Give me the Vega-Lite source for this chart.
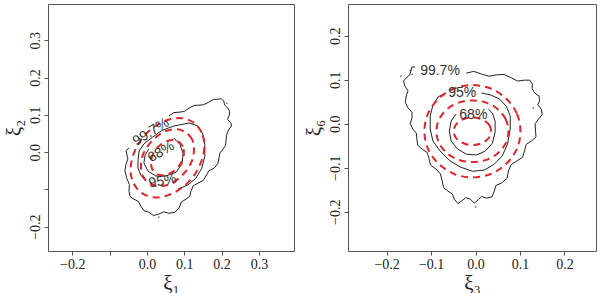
{
  "$schema": "https://vega.github.io/schema/vega-lite/v6.json",
  "background": "white",
  "padding": {"left": 2, "top": 3, "right": 0, "bottom": 0},
  "autosize": {"type": "pad"},
  "spacing": 54,
  "bounds": "flush",
  "config": {
    "view": {"stroke": "#555", "strokeWidth": 1},
    "axis": {"grid": false, "domain": false, "tickColor": "#555", "tickSize": 4, "labelFont": "Liberation Serif", "labelFontSize": 14, "labelColor": "#222", "titleFont": "Liberation Serif", "titleFontSize": 21, "titleFontWeight": "normal", "titleColor": "#222", "labelPadding": 2},
    "axisY": {"labelAngle": -90, "labelAlign": "center", "labelBaseline": "bottom", "titlePadding": 4},
    "axisX": {"titlePadding": 1}
  },
  "datasets": {
    "lc": [
      {"g":"a","i":0,"x":0.059,"y":0.097},{"g":"a","i":0.5,"x":0.072,"y":0.106},{"g":"a","i":1,"x":0.086,"y":0.107},{"g":"a","i":1.5,"x":0.100,"y":0.109},{"g":"a","i":2,"x":0.113,"y":0.118},{"g":"a","i":2.5,"x":0.126,"y":0.125},{"g":"a","i":3,"x":0.139,"y":0.126},{"g":"a","i":3.5,"x":0.152,"y":0.127},{"g":"a","i":4,"x":0.166,"y":0.134},{"g":"a","i":4.5,"x":0.178,"y":0.141},{"g":"a","i":5,"x":0.190,"y":0.142},{"g":"a","i":5.5,"x":0.199,"y":0.143},{"g":"a","i":6,"x":0.206,"y":0.137},{"g":"a","i":6.5,"x":0.208,"y":0.126},{"g":"a","i":7,"x":0.217,"y":0.118},{"g":"a","i":7.5,"x":0.222,"y":0.108},{"g":"a","i":8,"x":0.220,"y":0.097},{"g":"a","i":8.5,"x":0.216,"y":0.088},{"g":"a","i":9,"x":0.225,"y":0.078},{"g":"a","i":9.5,"x":0.227,"y":0.070},{"g":"a","i":10,"x":0.220,"y":0.062},{"g":"a","i":10.5,"x":0.213,"y":0.045},{"g":"a","i":11,"x":0.212,"y":0.029},{"g":"a","i":11.5,"x":0.210,"y":0.017},{"g":"a","i":12,"x":0.204,"y":0.008},{"g":"a","i":12.5,"x":0.196,"y":-0.002},{"g":"a","i":13,"x":0.193,"y":-0.016},{"g":"a","i":13.5,"x":0.190,"y":-0.031},{"g":"a","i":14,"x":0.180,"y":-0.043},{"g":"a","i":14.5,"x":0.166,"y":-0.050},{"g":"a","i":15,"x":0.158,"y":-0.064},{"g":"a","i":15.5,"x":0.151,"y":-0.076},{"g":"a","i":16,"x":0.137,"y":-0.083},{"g":"a","i":16.5,"x":0.124,"y":-0.090},{"g":"a","i":17,"x":0.118,"y":-0.105},{"g":"a","i":17.5,"x":0.115,"y":-0.118},{"g":"a","i":18,"x":0.105,"y":-0.126},{"g":"a","i":18.5,"x":0.092,"y":-0.134},{"g":"a","i":19,"x":0.086,"y":-0.150},{"g":"a","i":19.5,"x":0.075,"y":-0.161},{"g":"a","i":20,"x":0.059,"y":-0.164},{"g":"a","i":20.5,"x":0.045,"y":-0.160},{"g":"a","i":21,"x":0.032,"y":-0.166},{"g":"a","i":21.5,"x":0.018,"y":-0.170},{"g":"a","i":22,"x":0.005,"y":-0.161},{"g":"a","i":22.5,"x":-0.008,"y":-0.157},{"g":"a","i":23,"x":-0.016,"y":-0.145},{"g":"a","i":23.5,"x":-0.023,"y":-0.132},{"g":"a","i":24,"x":-0.035,"y":-0.126},{"g":"a","i":24.5,"x":-0.045,"y":-0.119},{"g":"a","i":25,"x":-0.048,"y":-0.105},{"g":"a","i":25.5,"x":-0.047,"y":-0.087},{"g":"a","i":26,"x":-0.054,"y":-0.070},{"g":"a","i":26.5,"x":-0.059,"y":-0.050},{"g":"a","i":27,"x":-0.056,"y":-0.032},{"g":"a","i":27.5,"x":-0.051,"y":-0.018},{"g":"a","i":28,"x":-0.054,"y":-0.005},{"g":"a","i":28.5,"x":-0.056,"y":0.004},{"g":"a","i":29,"x":-0.048,"y":0.011},
      {"g":"b","i":0,"x":-0.003,"y":-0.078},{"g":"b","i":1,"x":-0.016,"y":-0.062},{"g":"b","i":2,"x":-0.024,"y":-0.043},{"g":"b","i":3,"x":-0.024,"y":-0.024},{"g":"b","i":4,"x":-0.021,"y":0.003},{"g":"b","i":5,"x":-0.008,"y":0.022},{"g":"b","i":6,"x":0.015,"y":0.040},{"g":"b","i":7,"x":0.040,"y":0.058},{"g":"b","i":8,"x":0.072,"y":0.070},{"g":"b","i":9,"x":0.113,"y":0.078},{"g":"b","i":10,"x":0.137,"y":0.070},{"g":"b","i":11,"x":0.150,"y":0.048},{"g":"b","i":12,"x":0.155,"y":0.021},{"g":"b","i":13,"x":0.155,"y":-0.011},{"g":"b","i":14,"x":0.147,"y":-0.043},{"g":"b","i":15,"x":0.131,"y":-0.070},{"g":"b","i":16,"x":0.110,"y":-0.088},{"g":"b","i":17,"x":0.083,"y":-0.099},
      {"g":"c","i":0,"x":0.072,"y":0.038},{"g":"c","i":1,"x":0.088,"y":0.021},{"g":"c","i":2,"x":0.097,"y":-0.003},{"g":"c","i":3,"x":0.094,"y":-0.032},{"g":"c","i":4,"x":0.078,"y":-0.054},{"g":"c","i":5,"x":0.051,"y":-0.064},{"g":"c","i":6,"x":0.024,"y":-0.064},{"g":"c","i":7,"x":0.003,"y":-0.051},{"g":"c","i":8,"x":-0.008,"y":-0.029},{"g":"c","i":9,"x":-0.005,"y":-0.008},{"g":"c","i":10,"x":0.005,"y":0.008}
    ],
    "le": [
      {"g":"a","i":0,"x":0.099,"y":-0.001},{"g":"a","i":1,"x":0.096,"y":0.015},{"g":"a","i":2,"x":0.086,"y":0.027},{"g":"a","i":3,"x":0.072,"y":0.032},{"g":"a","i":4,"x":0.055,"y":0.030},{"g":"a","i":5,"x":0.038,"y":0.021},{"g":"a","i":6,"x":0.024,"y":0.007},{"g":"a","i":7,"x":0.014,"y":-0.011},{"g":"a","i":8,"x":0.011,"y":-0.029},{"g":"a","i":9,"x":0.014,"y":-0.045},{"g":"a","i":10,"x":0.024,"y":-0.057},{"g":"a","i":11,"x":0.038,"y":-0.062},{"g":"a","i":12,"x":0.055,"y":-0.060},{"g":"a","i":13,"x":0.072,"y":-0.051},{"g":"a","i":14,"x":0.086,"y":-0.037},{"g":"a","i":15,"x":0.096,"y":-0.019},
      {"g":"b","i":0,"x":0.126,"y":0.008},{"g":"b","i":1,"x":0.121,"y":0.034},{"g":"b","i":2,"x":0.105,"y":0.052},{"g":"b","i":3,"x":0.082,"y":0.061},{"g":"b","i":4,"x":0.055,"y":0.058},{"g":"b","i":5,"x":0.028,"y":0.043},{"g":"b","i":6,"x":0.005,"y":0.020},{"g":"b","i":7,"x":-0.011,"y":-0.008},{"g":"b","i":8,"x":-0.016,"y":-0.038},{"g":"b","i":9,"x":-0.011,"y":-0.064},{"g":"b","i":10,"x":0.005,"y":-0.082},{"g":"b","i":11,"x":0.028,"y":-0.091},{"g":"b","i":12,"x":0.055,"y":-0.088},{"g":"b","i":13,"x":0.082,"y":-0.073},{"g":"b","i":14,"x":0.105,"y":-0.050},{"g":"b","i":15,"x":0.121,"y":-0.022},
      {"g":"c","i":0,"x":0.154,"y":0.017},{"g":"c","i":1,"x":0.146,"y":0.053},{"g":"c","i":2,"x":0.125,"y":0.079},{"g":"c","i":3,"x":0.093,"y":0.091},{"g":"c","i":4,"x":0.055,"y":0.086},{"g":"c","i":5,"x":0.017,"y":0.066},{"g":"c","i":6,"x":-0.015,"y":0.034},{"g":"c","i":7,"x":-0.036,"y":-0.006},{"g":"c","i":8,"x":-0.044,"y":-0.047},{"g":"c","i":9,"x":-0.036,"y":-0.083},{"g":"c","i":10,"x":-0.015,"y":-0.109},{"g":"c","i":11,"x":0.017,"y":-0.121},{"g":"c","i":12,"x":0.055,"y":-0.116},{"g":"c","i":13,"x":0.093,"y":-0.096},{"g":"c","i":14,"x":0.125,"y":-0.064},{"g":"c","i":15,"x":0.146,"y":-0.024}
    ],
    "ll": [
      {"t":"99.7%","x":0.011,"y":0.054},
      {"t":"68%","x":0.038,"y":0.000},
      {"t":"95%","x":0.042,"y":-0.078}
    ],
    "ld": [{"x":0.032,"y":-0.174},{"x":0.214,"y":0.131}],
    "rc": [
      {"g":"a","i":0,"x":-0.021,"y":0.115},{"g":"a","i":0.5,"x":-0.004,"y":0.119},{"g":"a","i":1,"x":0.013,"y":0.113},{"g":"a","i":1.5,"x":0.030,"y":0.108},{"g":"a","i":2,"x":0.047,"y":0.111},{"g":"a","i":2.5,"x":0.064,"y":0.112},{"g":"a","i":3,"x":0.081,"y":0.104},{"g":"a","i":3.5,"x":0.095,"y":0.097},{"g":"a","i":4,"x":0.110,"y":0.099},{"g":"a","i":4.5,"x":0.122,"y":0.099},{"g":"a","i":5,"x":0.128,"y":0.090},{"g":"a","i":5.5,"x":0.127,"y":0.080},{"g":"a","i":6,"x":0.133,"y":0.070},{"g":"a","i":6.5,"x":0.143,"y":0.063},{"g":"a","i":7,"x":0.144,"y":0.052},{"g":"a","i":7.5,"x":0.140,"y":0.043},{"g":"a","i":8,"x":0.148,"y":0.033},{"g":"a","i":8.5,"x":0.150,"y":0.021},{"g":"a","i":9,"x":0.142,"y":0.011},{"g":"a","i":9.5,"x":0.134,"y":0.000},{"g":"a","i":10,"x":0.135,"y":-0.017},{"g":"a","i":10.5,"x":0.136,"y":-0.030},{"g":"a","i":11,"x":0.126,"y":-0.039},{"g":"a","i":11.5,"x":0.114,"y":-0.047},{"g":"a","i":12,"x":0.110,"y":-0.062},{"g":"a","i":12.5,"x":0.106,"y":-0.076},{"g":"a","i":13,"x":0.092,"y":-0.085},{"g":"a","i":13.5,"x":0.080,"y":-0.093},{"g":"a","i":14,"x":0.074,"y":-0.107},{"g":"a","i":14.5,"x":0.071,"y":-0.124},{"g":"a","i":15,"x":0.058,"y":-0.135},{"g":"a","i":15.5,"x":0.046,"y":-0.140},{"g":"a","i":16,"x":0.042,"y":-0.153},{"g":"a","i":16.5,"x":0.037,"y":-0.166},{"g":"a","i":17,"x":0.024,"y":-0.169},{"g":"a","i":17.5,"x":0.014,"y":-0.165},{"g":"a","i":18,"x":0.006,"y":-0.173},{"g":"a","i":18.5,"x":-0.003,"y":-0.180},{"g":"a","i":19,"x":-0.012,"y":-0.171},{"g":"a","i":19.5,"x":-0.022,"y":-0.168},{"g":"a","i":20,"x":-0.032,"y":-0.176},{"g":"a","i":20.5,"x":-0.040,"y":-0.181},{"g":"a","i":21,"x":-0.048,"y":-0.171},{"g":"a","i":21.5,"x":-0.052,"y":-0.160},{"g":"a","i":22,"x":-0.062,"y":-0.153},{"g":"a","i":22.5,"x":-0.072,"y":-0.145},{"g":"a","i":23,"x":-0.075,"y":-0.130},{"g":"a","i":23.5,"x":-0.079,"y":-0.114},{"g":"a","i":24,"x":-0.089,"y":-0.103},{"g":"a","i":24.5,"x":-0.101,"y":-0.094},{"g":"a","i":25,"x":-0.105,"y":-0.078},{"g":"a","i":25.5,"x":-0.109,"y":-0.065},{"g":"a","i":26,"x":-0.120,"y":-0.058},{"g":"a","i":26.5,"x":-0.130,"y":-0.049},{"g":"a","i":27,"x":-0.132,"y":-0.035},{"g":"a","i":27.5,"x":-0.133,"y":-0.022},{"g":"a","i":28,"x":-0.141,"y":-0.012},{"g":"a","i":28.5,"x":-0.147,"y":0.000},{"g":"a","i":29,"x":-0.143,"y":0.013},{"g":"a","i":29.5,"x":-0.143,"y":0.026},{"g":"a","i":30,"x":-0.152,"y":0.036},{"g":"a","i":30.5,"x":-0.158,"y":0.048},{"g":"a","i":31,"x":-0.156,"y":0.063},{"g":"a","i":31.5,"x":-0.152,"y":0.075},{"g":"a","i":32,"x":-0.159,"y":0.086},{"g":"a","i":32.5,"x":-0.162,"y":0.097},{"g":"a","i":33,"x":-0.154,"y":0.106},{"g":"a","i":33.5,"x":-0.148,"y":0.111},{"g":"a","i":34,"x":-0.145,"y":0.122},{"g":"a","i":34.5,"x":-0.143,"y":0.129},{"g":"a","i":35,"x":-0.136,"y":0.129},
      {"g":"b","i":0,"x":-0.068,"y":0.070},{"g":"b","i":1,"x":-0.084,"y":0.061},{"g":"b","i":2,"x":-0.096,"y":0.042},{"g":"b","i":3,"x":-0.102,"y":0.018},{"g":"b","i":4,"x":-0.102,"y":-0.012},{"g":"b","i":5,"x":-0.096,"y":-0.039},{"g":"b","i":6,"x":-0.080,"y":-0.062},{"g":"b","i":7,"x":-0.059,"y":-0.083},{"g":"b","i":8,"x":-0.035,"y":-0.098},{"g":"b","i":9,"x":-0.007,"y":-0.108},{"g":"b","i":10,"x":0.020,"y":-0.105},{"g":"b","i":11,"x":0.042,"y":-0.092},{"g":"b","i":12,"x":0.060,"y":-0.073},{"g":"b","i":13,"x":0.072,"y":-0.046},{"g":"b","i":14,"x":0.078,"y":-0.012},{"g":"b","i":15,"x":0.078,"y":0.018},{"g":"b","i":16,"x":0.069,"y":0.040},{"g":"b","i":17,"x":0.054,"y":0.056},{"g":"b","i":18,"x":0.035,"y":0.065},{"g":"b","i":19,"x":0.013,"y":0.070},
      {"g":"c","i":0,"x":-0.044,"y":0.022},{"g":"c","i":1,"x":-0.055,"y":0.006},{"g":"c","i":2,"x":-0.059,"y":-0.017},{"g":"c","i":3,"x":-0.055,"y":-0.039},{"g":"c","i":4,"x":-0.041,"y":-0.057},{"g":"c","i":5,"x":-0.021,"y":-0.069},{"g":"c","i":6,"x":0.002,"y":-0.071},{"g":"c","i":7,"x":0.022,"y":-0.062},{"g":"c","i":8,"x":0.038,"y":-0.044},{"g":"c","i":9,"x":0.044,"y":-0.019},{"g":"c","i":10,"x":0.044,"y":0.006},{"g":"c","i":11,"x":0.038,"y":0.024},{"g":"c","i":12,"x":0.029,"y":0.033}
    ],
    "re": [
      {"g":"a","i":0,"x":0.035,"y":-0.017},{"g":"a","i":1,"x":0.032,"y":-0.005},{"g":"a","i":2,"x":0.023,"y":0.005},{"g":"a","i":3,"x":0.009,"y":0.012},{"g":"a","i":4,"x":-0.007,"y":0.014},{"g":"a","i":5,"x":-0.023,"y":0.012},{"g":"a","i":6,"x":-0.037,"y":0.005},{"g":"a","i":7,"x":-0.046,"y":-0.005},{"g":"a","i":8,"x":-0.049,"y":-0.017},{"g":"a","i":9,"x":-0.046,"y":-0.029},{"g":"a","i":10,"x":-0.037,"y":-0.039},{"g":"a","i":11,"x":-0.023,"y":-0.046},{"g":"a","i":12,"x":-0.007,"y":-0.048},{"g":"a","i":13,"x":0.009,"y":-0.046},{"g":"a","i":14,"x":0.023,"y":-0.039},{"g":"a","i":15,"x":0.032,"y":-0.029},
      {"g":"b","i":0,"x":0.074,"y":-0.017},{"g":"b","i":1,"x":0.068,"y":0.010},{"g":"b","i":2,"x":0.050,"y":0.033},{"g":"b","i":3,"x":0.024,"y":0.048},{"g":"b","i":4,"x":-0.007,"y":0.053},{"g":"b","i":5,"x":-0.038,"y":0.048},{"g":"b","i":6,"x":-0.064,"y":0.033},{"g":"b","i":7,"x":-0.082,"y":0.010},{"g":"b","i":8,"x":-0.088,"y":-0.017},{"g":"b","i":9,"x":-0.082,"y":-0.044},{"g":"b","i":10,"x":-0.064,"y":-0.067},{"g":"b","i":11,"x":-0.038,"y":-0.082},{"g":"b","i":12,"x":-0.007,"y":-0.087},{"g":"b","i":13,"x":0.024,"y":-0.082},{"g":"b","i":14,"x":0.050,"y":-0.067},{"g":"b","i":15,"x":0.068,"y":-0.044},
      {"g":"c","i":0,"x":0.101,"y":-0.017},{"g":"c","i":1,"x":0.093,"y":0.023},{"g":"c","i":2,"x":0.069,"y":0.057},{"g":"c","i":3,"x":0.034,"y":0.080},{"g":"c","i":4,"x":-0.007,"y":0.088},{"g":"c","i":5,"x":-0.048,"y":0.080},{"g":"c","i":6,"x":-0.083,"y":0.057},{"g":"c","i":7,"x":-0.107,"y":0.023},{"g":"c","i":8,"x":-0.115,"y":-0.017},{"g":"c","i":9,"x":-0.107,"y":-0.057},{"g":"c","i":10,"x":-0.083,"y":-0.091},{"g":"c","i":11,"x":-0.048,"y":-0.114},{"g":"c","i":12,"x":-0.007,"y":-0.122},{"g":"c","i":13,"x":0.034,"y":-0.114},{"g":"c","i":14,"x":0.069,"y":-0.091},{"g":"c","i":15,"x":0.093,"y":-0.057}
    ],
    "rl": [
      {"t":"99.7%","x":-0.080,"y":0.120},
      {"t":"95%","x":-0.030,"y":0.069},
      {"t":"68%","x":-0.005,"y":0.020}
    ],
    "rd": [{"x":0.0,"y":-0.189},{"x":0.130,"y":0.036},{"x":-0.168,"y":0.108},{"x":-0.147,"y":0.121},{"x":-0.143,"y":0.112}]
  },
  "hconcat": [
    {
      "width": 246,
      "height": 247,
      "encoding": {
        "x": {"field": "x", "type": "quantitative", "scale": {"domain": [-0.265, 0.394], "nice": false, "zero": false}, "axis": {"title": "ξ₁", "values": [-0.2, -0.1, 0, 0.1, 0.2, 0.3], "labelExpr": "abs(datum.value + 0.1) < 0.01 ? '' : format(datum.value, '.1f')"}},
        "y": {"field": "y", "type": "quantitative", "scale": {"domain": [-0.265, 0.397], "nice": false, "zero": false}, "axis": {"title": "ξ₂", "values": [-0.2, -0.1, 0, 0.1, 0.2, 0.3], "labelExpr": "abs(datum.value + 0.1) < 0.01 ? '' : format(datum.value, '.1f')"}}
      },
      "layer": [
        {"data": {"name": "lc"}, "mark": {"type": "line", "color": "#222", "strokeWidth": 1}, "encoding": {"detail": {"field": "g"}, "order": {"field": "i", "type": "quantitative"}}},
        {"data": {"name": "le"}, "mark": {"type": "line", "color": "#e3242b", "strokeWidth": 2, "strokeDash": [7, 5], "interpolate": "cardinal-closed"}, "encoding": {"detail": {"field": "g"}, "order": {"field": "i", "type": "quantitative"}}},
        {"data": {"name": "ll"}, "transform": [{"filter": "datum.t == '99.7%'"}], "mark": {"type": "text", "font": "Liberation Sans", "fontSize": 14, "color": "#333", "angle": 328}, "encoding": {"text": {"field": "t"}}},
        {"data": {"name": "ll"}, "transform": [{"filter": "datum.t == '68%'"}], "mark": {"type": "text", "font": "Liberation Sans", "fontSize": 14, "color": "#333", "angle": 330}, "encoding": {"text": {"field": "t"}}},
        {"data": {"name": "ll"}, "transform": [{"filter": "datum.t == '95%'"}], "mark": {"type": "text", "font": "Liberation Sans", "fontSize": 14, "color": "#333", "angle": 350}, "encoding": {"text": {"field": "t"}}},
        {"data": {"name": "ld"}, "mark": {"type": "point", "filled": true, "size": 3, "color": "#333"}}
      ]
    },
    {
      "width": 248,
      "height": 247,
      "encoding": {
        "x": {"field": "x", "type": "quantitative", "scale": {"domain": [-0.287, 0.271], "nice": false, "zero": false}, "axis": {"title": "ξ₃", "values": [-0.2, -0.1, 0, 0.1, 0.2], "format": ".1f"}},
        "y": {"field": "y", "type": "quantitative", "scale": {"domain": [-0.289, 0.272], "nice": false, "zero": false}, "axis": {"title": "ξ₆", "values": [-0.2, -0.1, 0, 0.1, 0.2], "format": ".1f"}}
      },
      "layer": [
        {"data": {"name": "rc"}, "mark": {"type": "line", "color": "#222", "strokeWidth": 1}, "encoding": {"detail": {"field": "g"}, "order": {"field": "i", "type": "quantitative"}}},
        {"data": {"name": "re"}, "mark": {"type": "line", "color": "#e3242b", "strokeWidth": 2, "strokeDash": [7, 5], "interpolate": "cardinal-closed"}, "encoding": {"detail": {"field": "g"}, "order": {"field": "i", "type": "quantitative"}}},
        {"data": {"name": "rl"}, "mark": {"type": "text", "font": "Liberation Sans", "fontSize": 14, "color": "#333"}, "encoding": {"text": {"field": "t"}}},
        {"data": {"name": "rd"}, "mark": {"type": "point", "filled": true, "size": 3, "color": "#333"}}
      ]
    }
  ]
}
